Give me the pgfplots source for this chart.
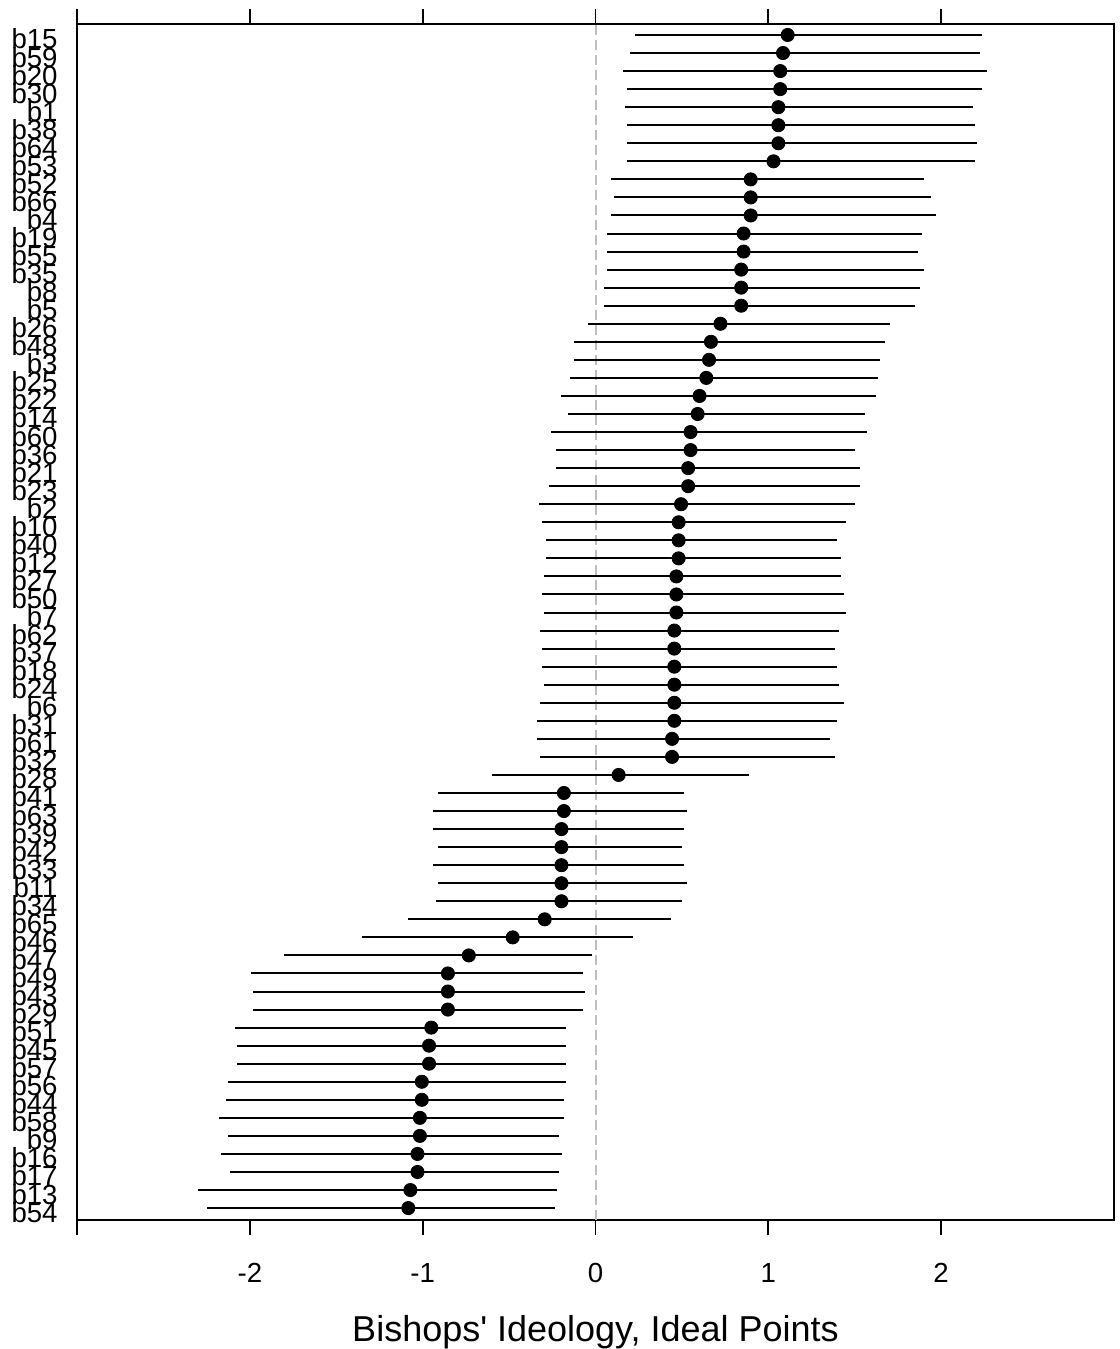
\documentclass[border=0pt]{standalone}
\usepackage{pgfplots}
\pgfplotsset{compat=1.18}
\usepackage{pgfplotstable}
\usepackage{fontspec}
\setmainfont{Liberation Sans}
\newfontfamily\plainfont{Liberation Sans}

\pgfplotstableread{
name y x lo hi
b15 66 1.112 0.228 2.235
b59 65 1.085 0.199 2.222
b20 64 1.069 0.160 2.263
b30 63 1.069 0.185 2.235
b1 62 1.058 0.171 2.183
b38 61 1.058 0.185 2.197
b64 60 1.058 0.185 2.210
b53 59 1.030 0.185 2.197
b52 58 0.898 0.091 1.903
b66 57 0.898 0.105 1.944
b4 56 0.898 0.091 1.969
b19 55 0.857 0.064 1.889
b55 54 0.857 0.064 1.864
b35 53 0.843 0.064 1.903
b8 52 0.843 0.050 1.876
b5 51 0.843 0.050 1.850
b26 50 0.723 -0.041 1.702
b48 49 0.668 -0.123 1.675
b3 48 0.657 -0.123 1.648
b25 47 0.641 -0.147 1.634
b22 46 0.602 -0.200 1.623
b14 45 0.591 -0.161 1.557
b60 44 0.550 -0.257 1.570
b36 43 0.550 -0.230 1.502
b21 42 0.536 -0.230 1.529
b23 41 0.536 -0.271 1.529
b2 40 0.495 -0.325 1.502
b10 39 0.481 -0.312 1.447
b40 38 0.481 -0.284 1.395
b12 37 0.481 -0.284 1.422
b27 36 0.468 -0.296 1.422
b50 35 0.468 -0.312 1.436
b7 34 0.468 -0.296 1.450
b62 33 0.456 -0.324 1.410
b37 32 0.456 -0.309 1.383
b18 31 0.456 -0.309 1.397
b24 30 0.456 -0.296 1.410
b6 29 0.456 -0.323 1.436
b31 28 0.456 -0.336 1.397
b61 27 0.443 -0.336 1.359
b32 26 0.443 -0.323 1.383
b28 25 0.134 -0.601 0.888
b41 24 -0.183 -0.911 0.514
b63 23 -0.183 -0.938 0.527
b39 22 -0.197 -0.938 0.514
b42 21 -0.197 -0.911 0.501
b33 20 -0.197 -0.938 0.514
b11 19 -0.197 -0.911 0.527
b34 18 -0.197 -0.924 0.501
b65 17 -0.294 -1.083 0.434
b46 16 -0.479 -1.351 0.218
b47 15 -0.733 -1.803 -0.023
b49 14 -0.854 -1.994 -0.074
b43 13 -0.854 -1.980 -0.062
b29 12 -0.854 -1.980 -0.074
b51 11 -0.950 -2.087 -0.169
b45 10 -0.963 -2.073 -0.169
b57 9 -0.963 -2.073 -0.169
b56 8 -1.005 -2.127 -0.169
b44 7 -1.005 -2.140 -0.182
b58 6 -1.016 -2.180 -0.182
b9 5 -1.016 -2.127 -0.209
b16 4 -1.030 -2.167 -0.195
b17 3 -1.030 -2.113 -0.209
b13 2 -1.071 -2.301 -0.222
b54 1 -1.083 -2.246 -0.235
}\data

\begin{document}
\begin{tikzpicture}
\begin{axis}[
  at={(0,0)}, anchor=south west,
  scale only axis, width=518.5pt, height=598pt,
  xmin=-3, xmax=3, ymin=0.34, ymax=66.61,
  xtick={-3,-2,-1,0,1,2}, xticklabels={,-2,-1,0,1,2},
  ytick={1,...,66},
  yticklabels={b54,b13,b17,b16,b9,b58,b44,b56,b57,b45,b51,b29,b43,b49,b47,b46,b65,b34,b11,b33,b42,b39,b63,b41,b28,b32,b61,b31,b6,b24,b18,b37,b62,b7,b50,b27,b12,b40,b10,b2,b23,b21,b36,b60,b14,b22,b25,b3,b48,b26,b5,b8,b35,b55,b19,b4,b66,b52,b53,b64,b38,b1,b30,b20,b59,b15},
  tick align=outside, major tick length=7.5pt,
  ytick style={draw=none},
  axis line style={line width=0.9pt},
  every tick/.style={black, line width=0.9pt},
  ticklabel style={font=\fontsize{13.8}{13.8}\selectfont},
  xticklabel style={anchor=base, yshift=-23.5pt, inner sep=0pt},
  yticklabel style={anchor=base east, inner sep=0pt, xshift=-2pt, yshift=-7pt},
  xlabel={\plainfont Bishops' Ideology, Ideal Points},
  xlabel style={font=\fontsize{18}{18}\selectfont, at={(axis description cs:0.5,0)}, anchor=base, yshift=-60.5pt, inner sep=0pt},
  clip=false,
]
\addplot[color={rgb,255:red,190;green,190;blue,190}, line width=1pt, dash pattern=on 5pt off 2.5pt, forget plot] coordinates {(0,0.34) (0,66.61)};
\addplot[only marks, mark=*, mark size=3.3pt, black,
  error bars/.cd, x dir=both, x explicit, error mark=none,
  error bar style={line width=1pt, black}]
  table[x=x, y=y, x error plus expr=\thisrow{hi}-\thisrow{x}, x error minus expr=\thisrow{x}-\thisrow{lo}] {\data};
\end{axis}
\pgfresetboundingbox
\path[use as bounding box] (-38.5pt,-64.5pt) rectangle (521pt,610pt);
\end{tikzpicture}
\end{document}
